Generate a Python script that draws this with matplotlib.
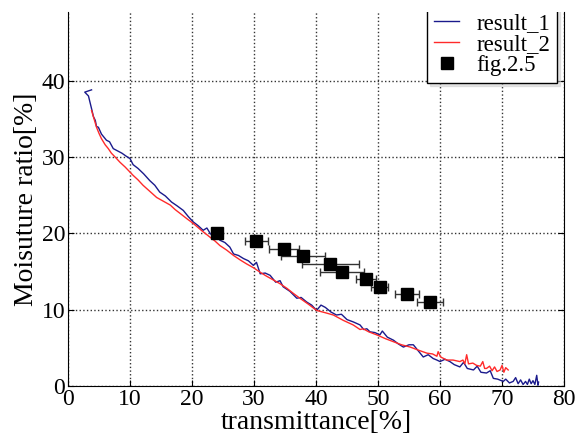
import numpy as np
import matplotlib
matplotlib.use('Agg')
import matplotlib.pyplot as plt

plt.rcParams['font.family'] = ['Liberation Serif', 'DejaVu Serif']

# result_1 (blue)
r1_x = [3.8, 2.7, 3.3, 3.6, 3.9, 4.1, 4.4, 4.6, 4.9, 5.4, 6.2, 6.7, 7.3, 8.0, 8.7, 9.4, 10.0, 10.5,
        11.3, 12.2, 13.2, 14.0, 14.8, 15.7, 16.7, 17.6, 18.6, 19.4, 20.2, 21.0, 21.8, 22.4, 23.0, 23.6,
        24.5, 25.3, 26.1, 26.7, 27.5, 28.3, 29.1, 29.9, 30.4, 31.0, 31.8, 32.6, 33.5, 34.2, 34.7, 35.8,
        36.9, 37.6, 38.5, 39.3, 40.1, 40.8, 41.5, 42.4, 43.3, 44.1, 45.0, 46.0, 47.1, 47.7, 48.2, 48.7,
        49.5, 50.3, 50.7, 51.5, 52.5, 53.3, 54.1, 55.0, 55.7, 56.5, 57.3, 58.1, 58.9, 59.5, 60.0, 60.8,
        61.6, 62.3, 63.2, 63.8, 64.4, 65.4, 66.0, 66.6, 67.5, 68.1, 68.6, 69.3, 70.2, 70.6, 71.2, 71.8,
        72.2, 72.6, 73.0, 73.4, 73.8, 74.1, 74.4, 74.7, 75.0, 75.3, 75.6, 75.8, 75.9]
r1_y = [38.8, 38.5, 38.0, 37.0, 36.0, 35.3, 34.8, 34.0, 33.9, 33.0, 32.2, 32.0, 31.1, 30.8, 30.5, 30.1, 29.8, 29.0,
        28.5, 27.8, 26.9, 26.3, 25.4, 24.9, 24.1, 23.6, 23.0, 22.2, 21.5, 21.0, 20.4, 20.7, 19.9, 20.1,
        19.1, 18.8, 18.2, 17.3, 17.1, 16.7, 16.4, 15.8, 16.2, 14.7, 14.8, 14.5, 13.6, 13.8, 13.0, 12.4,
        11.5, 11.6, 11.0, 10.6, 9.9, 10.6, 10.3, 9.7, 9.3, 9.4, 8.7, 8.4, 8.0, 7.4, 7.5, 7.1,
        7.0, 6.7, 7.2, 6.4, 6.0, 5.5, 5.1, 5.4, 5.4, 4.6, 3.8, 4.1, 3.6, 3.4, 3.2, 3.5,
        3.2, 2.8, 2.5, 3.1, 2.3, 2.1, 2.6, 1.8, 1.7, 2.0, 1.0, 0.9, 0.6, 0.9, 0.4, 0.6,
        1.1, 0.3, 0.8, 0.2, 0.6, 0.2, 0.9, 0.3, 0.7, 0.2, 1.4, 0.1, 0.5]

# result_2 (red)
r2_x = [3.8, 4.2, 4.6, 5.0, 5.4, 6.0, 6.5, 7.0, 7.6, 8.4, 9.2, 10.5, 11.3, 12.1, 13.2, 14.3, 15.4, 16.5,
        17.3, 18.1, 19.2, 20.2, 21.5, 22.9, 23.7, 24.5, 25.6, 26.7, 27.8, 28.8, 29.9, 31.0, 32.0, 33.1,
        34.2, 35.3, 36.4, 37.4, 38.8, 40.1, 41.5, 42.8, 44.4, 46.0, 47.1, 47.6, 48.5, 49.8, 51.2, 52.5,
        53.8, 55.2, 56.5, 57.9, 58.8, 59.5, 59.7, 60.1, 61.1, 62.1, 63.2, 63.7, 64.0, 64.3, 64.6, 65.3,
        65.9, 66.5, 66.9, 67.2, 67.5, 68.0, 68.4, 68.8, 69.2, 69.7, 70.0, 70.3, 70.6, 71.0]
r2_y = [36.1, 35.0, 33.9, 33.1, 32.4, 31.6, 31.1, 30.5, 30.0, 29.3, 28.7, 27.6, 27.0, 26.3, 25.5, 24.7, 24.2, 23.7,
        23.1, 22.6, 21.9, 21.3, 20.4, 19.5, 19.0, 18.4, 17.8, 17.1, 16.5, 16.0, 15.5, 14.9, 14.4, 13.9,
        13.4, 12.8, 12.1, 11.5, 10.7, 9.9, 9.6, 9.3, 8.6, 8.0, 7.4, 7.5, 7.1, 6.7, 6.2, 5.8,
        5.4, 5.1, 4.7, 4.3, 4.2, 3.9, 4.5, 3.8, 3.4, 3.4, 3.2, 3.4, 2.9, 4.1, 2.9, 3.0,
        2.7, 2.6, 3.2, 2.3, 2.3, 2.6, 2.0, 2.5, 1.9, 2.1, 2.7, 1.8, 2.4, 2.1]

# fig.2.5 measured points with horizontal error
fig_x = [24.1, 30.4, 34.8, 37.9, 42.3, 44.2, 48.0, 50.3, 54.7, 58.4]
fig_y = [20, 19, 18, 17, 16, 15, 14, 13, 12, 11]
fig_xerr = [0.4, 1.9, 2.4, 3.6, 4.6, 3.6, 1.6, 1.35, 1.9, 2.1]

fig = plt.figure(figsize=(5.79, 4.34), dpi=100)
ax = fig.add_axes([68 / 579, 48 / 434, 496 / 579, 374 / 434])

ax.plot(r1_x, r1_y, color='#1a1a8c', lw=1.0, label='result_1')
ax.plot(r2_x, r2_y, color='#ff2a2a', lw=1.0, label='result_2')
ax.errorbar(fig_x, fig_y, xerr=fig_xerr, fmt='none', ecolor='#333333', elinewidth=1.0,
            capsize=3, capthick=1.0, zorder=3)
ax.plot(fig_x, fig_y, 's', color='black', ms=8.5, ls='none', label='fig.2.5', zorder=4)

ax.set_xlim(0, 80)
ax.set_ylim(0, 49)
ax.set_xticks(np.arange(0, 81, 10))
ax.set_yticks(np.arange(0, 41, 10))
ax.grid(True, ls=':', color='#333333', lw=1.0)
ax.spines['top'].set_visible(False)
ax.tick_params(direction='in', right=True, labelsize=17, length=4, pad=2)

ax.set_xlabel('transmittance[%]', fontsize=20, labelpad=0)
ax.set_ylabel('Moisuture ratio[%]', fontsize=20, labelpad=2)

leg = ax.legend(loc='lower right', bbox_to_anchor=(0.986, 0.81), fontsize=16.5,
                fancybox=False, edgecolor='black', framealpha=1, borderaxespad=0,
                labelspacing=0.0, handlelength=1.1, handletextpad=0.75, borderpad=0.3,
                shadow={'color': '0.8', 'alpha': 0.5})
leg.get_frame().set_linewidth(1.0)
leg.legendPatch.set_clip_box(ax.bbox)
leg.legendPatch.set_clip_on(True)

fig.savefig('out.png', dpi=100)
